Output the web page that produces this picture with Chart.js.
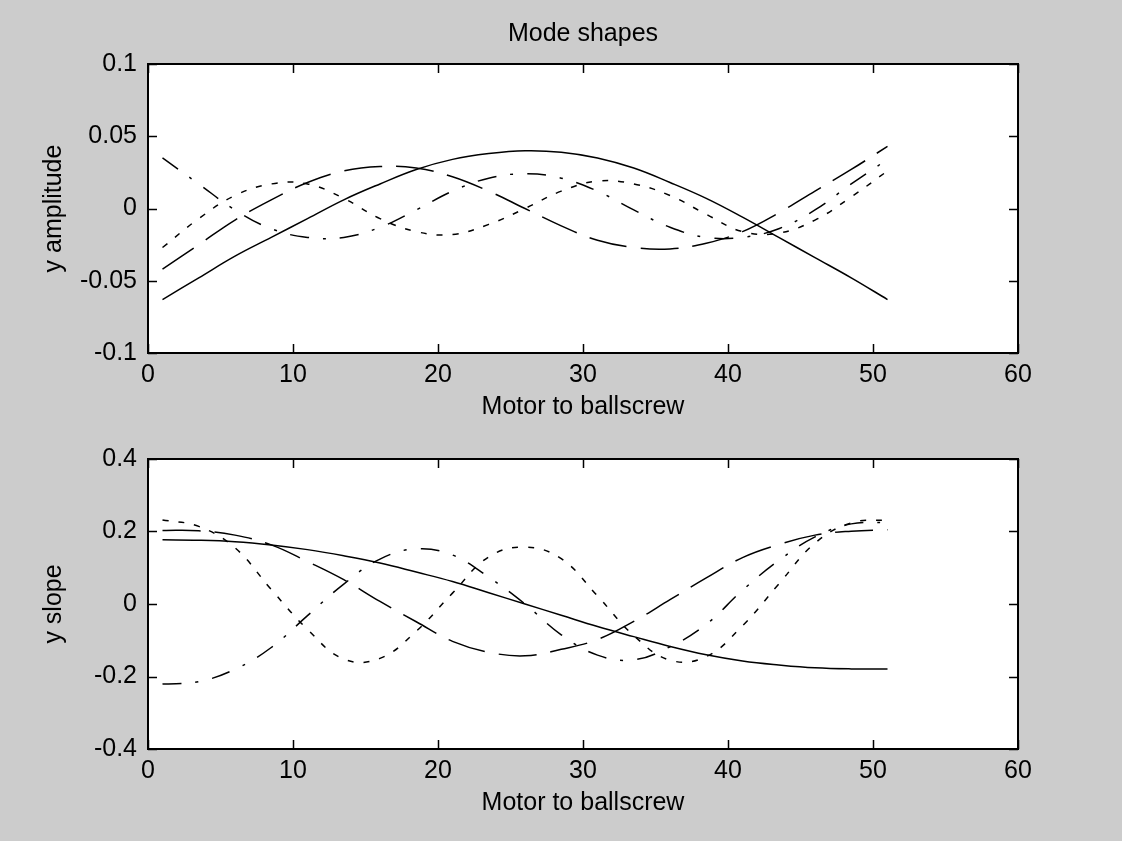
<!DOCTYPE html>
<html>
<head>
<meta charset="utf-8">
<title>Mode shapes</title>
<script src="https://cdn.jsdelivr.net/npm/chart.js@4/dist/chart.umd.min.js"></script>
<style>
  html, body { margin: 0; padding: 0; background: #cccccc; }
  #figure { position: relative; width: 1122px; height: 841px; }
  .panel { position: absolute; left: 0; width: 1122px; }
</style>
</head>
<body>
<div id="figure">
  <div class="panel" style="top:0;height:420px"><canvas id="ampChart" width="1122" height="420"></canvas></div>
  <div class="panel" style="top:420px;height:421px"><canvas id="slopeChart" width="1122" height="421"></canvas></div>
</div>
<script>
"use strict"

let stations = [1, 3.5, 6, 8.5, 11, 13.5, 16, 18.5, 21, 23.5, 26, 28.5, 31, 33.5, 36, 38.5, 41, 43.5, 46, 48.5, 51];

// top plot: y amplitude, one array per mode
let ampMode1 = [-0.063, -0.048, -0.033, -0.020, -0.007, 0.006, 0.017, 0.027, 0.034, 0.038, 0.040, 0.039, 0.035, 0.028, 0.018, 0.007, -0.006, -0.020, -0.034, -0.048, -0.063];
let ampMode2 = [-0.042, -0.025, -0.008, 0.006, 0.018, 0.026, 0.029, 0.028, 0.022, 0.012, 0.000, -0.012, -0.022, -0.027, -0.028, -0.024, -0.016, -0.003, 0.012, 0.027, 0.043];
let ampMode3 = [0.035, 0.017, -0.001, -0.014, -0.020, -0.020, -0.013, -0.001, 0.012, 0.021, 0.024, 0.021, 0.012, -0.001, -0.013, -0.020, -0.020, -0.014, -0.001, 0.017, 0.034];
let ampMode4 = [-0.027, -0.007, 0.009, 0.017, 0.017, 0.007, -0.007, -0.016, -0.018, -0.011, 0.000, 0.012, 0.019, 0.017, 0.009, -0.004, -0.016, -0.017, -0.008, 0.008, 0.026];

// bottom plot: y slope, one array per mode
let slopeMode1 = [0.177, 0.176, 0.172, 0.163, 0.150, 0.133, 0.113, 0.088, 0.062, 0.031, 0.000, -0.031, -0.062, -0.090, -0.117, -0.140, -0.157, -0.168, -0.176, -0.179, -0.179];
let slopeMode2 = [0.203, 0.202, 0.190, 0.163, 0.117, 0.067, 0.007, -0.049, -0.103, -0.133, -0.143, -0.125, -0.098, -0.048, 0.012, 0.072, 0.128, 0.164, 0.190, 0.201, 0.205];
let slopeMode3 = [-0.221, -0.214, -0.180, -0.120, -0.032, 0.055, 0.124, 0.152, 0.135, 0.074, 0.000, -0.085, -0.141, -0.154, -0.118, -0.056, 0.038, 0.120, 0.185, 0.221, 0.225];
let slopeMode4 = [0.232, 0.214, 0.155, 0.040, -0.070, -0.152, -0.150, -0.075, 0.030, 0.130, 0.157, 0.125, 0.022, -0.087, -0.155, -0.145, -0.060, 0.055, 0.168, 0.224, 0.232];

// axis ticks
let xTicks = [0, 10, 20, 30, 40, 50, 60];
let ampTicks = [-0.1, -0.05, 0, 0.05, 0.1];
let ampTickLabels = ["-0.1", "-0.05", "0", "0.05", "0.1"];
let slopeTicks = [-0.4, -0.2, 0, 0.2, 0.4];
let slopeTickLabels = ["-0.4", "-0.2", "0", "0.2", "0.4"];

const FONT = "'Liberation Sans', Arial, sans-serif";
const INK = "#000000";

// matlab line styles per mode: solid, dashed, dash-dot, dotted
let lineStyles = [[], [38, 14], [19, 14, 3, 14], [6, 10]];

function toPoints(values) {
    let points = [];
    for (let i = 0; i < stations.length; i++) {
        points.push({ x: stations[i], y: values[i] });
    }
    return points;
}

function makeDatasets(series) {
    return series.map(function (values, i) {
        return {
            data: toPoints(values),
            borderColor: INK,
            borderWidth: 1.5,
            borderDash: lineStyles[i],
            pointRadius: 0,
            fill: false,
            tension: 0.4
        };
    });
}

// white plot area behind the lines
const whiteBox = {
    id: "whiteBox",
    beforeDatasetsDraw(chart) {
        let a = chart.chartArea;
        let ctx = chart.ctx;
        ctx.save();
        ctx.fillStyle = "#ffffff";
        ctx.fillRect(a.left, a.top, a.right - a.left, a.bottom - a.top);
        ctx.restore();
    }
};

// box round the axes with inward tick marks on every side
const matlabBox = {
    id: "matlabBox",
    afterDraw(chart) {
        let a = chart.chartArea;
        let ctx = chart.ctx;
        let xs = chart.scales.x;
        let ys = chart.scales.y;
        let len = 9;
        ctx.save();
        ctx.strokeStyle = INK;
        ctx.lineWidth = 1.5;
        ctx.beginPath();
        xs.ticks.forEach(function (t) {
            let px = Math.round(xs.getPixelForValue(t.value)) + 0.5;
            ctx.moveTo(px, a.bottom);
            ctx.lineTo(px, a.bottom - len);
            ctx.moveTo(px, a.top);
            ctx.lineTo(px, a.top + len);
        });
        ys.ticks.forEach(function (t) {
            let py = Math.round(ys.getPixelForValue(t.value)) + 0.5;
            ctx.moveTo(a.left, py);
            ctx.lineTo(a.left + len, py);
            ctx.moveTo(a.right, py);
            ctx.lineTo(a.right - len, py);
        });
        ctx.stroke();
        ctx.lineWidth = 2;
        ctx.strokeRect(a.left, a.top, a.right - a.left, a.bottom - a.top);
        ctx.restore();
    }
};

function makeScales(yMin, yMax, yTicks, yLabels, yTitle) {
    return {
        x: {
            type: "linear",
            min: 0,
            max: 60,
            afterBuildTicks: function (s) { s.ticks = xTicks.map(function (v) { return { value: v }; }); },
            afterFit: function (s) { s.height = 67; },
            grid: { display: false, drawTicks: false },
            border: { display: false },
            ticks: {
                autoSkip: false,
                maxRotation: 0,
                padding: 7,
                color: INK,
                font: { family: FONT, size: 25 },
                callback: function (v) { return String(v); }
            },
            title: {
                display: true,
                text: "Motor to ballscrew",
                color: INK,
                padding: 0,
                font: { family: FONT, size: 25, lineHeight: 1 }
            }
        },
        y: {
            type: "linear",
            min: yMin,
            max: yMax,
            afterBuildTicks: function (s) { s.ticks = yTicks.map(function (v) { return { value: v }; }); },
            afterFit: function (s) { s.width = 148; },
            grid: { display: false, drawTicks: false },
            border: { display: false },
            ticks: {
                autoSkip: false,
                padding: 11,
                color: INK,
                font: { family: FONT, size: 25 },
                callback: function (v, i) { return yLabels[i]; }
            },
            title: {
                display: true,
                text: yTitle,
                color: INK,
                padding: { top: 42, bottom: 0 },
                font: { family: FONT, size: 25, lineHeight: 1 }
            }
        }
    };
}

const ampChart = new Chart(document.getElementById("ampChart").getContext("2d"), {
    type: "line",
    data: { datasets: makeDatasets([ampMode1, ampMode2, ampMode3, ampMode4]) },
    options: {
        responsive: false,
        animation: false,
        layout: { padding: { left: 0, right: 104, top: 0, bottom: 0 } },
        plugins: {
            legend: { display: false },
            tooltip: { enabled: false },
            title: {
                display: true,
                fullSize: false,
                text: "Mode shapes",
                color: INK,
                padding: { top: 19, bottom: 15 },
                font: { family: FONT, size: 25, weight: "normal", lineHeight: 1.2 }
            }
        },
        scales: makeScales(-0.1, 0.1, ampTicks, ampTickLabels, "y amplitude")
    },
    plugins: [whiteBox, matlabBox]
});

const slopeChart = new Chart(document.getElementById("slopeChart").getContext("2d"), {
    type: "line",
    data: { datasets: makeDatasets([slopeMode1, slopeMode2, slopeMode3, slopeMode4]) },
    options: {
        responsive: false,
        animation: false,
        layout: { padding: { left: 0, right: 104, top: 39, bottom: 25 } },
        plugins: {
            legend: { display: false },
            tooltip: { enabled: false }
        },
        scales: makeScales(-0.4, 0.4, slopeTicks, slopeTickLabels, "y slope")
    },
    plugins: [whiteBox, matlabBox]
});
</script>
</body>
</html>
